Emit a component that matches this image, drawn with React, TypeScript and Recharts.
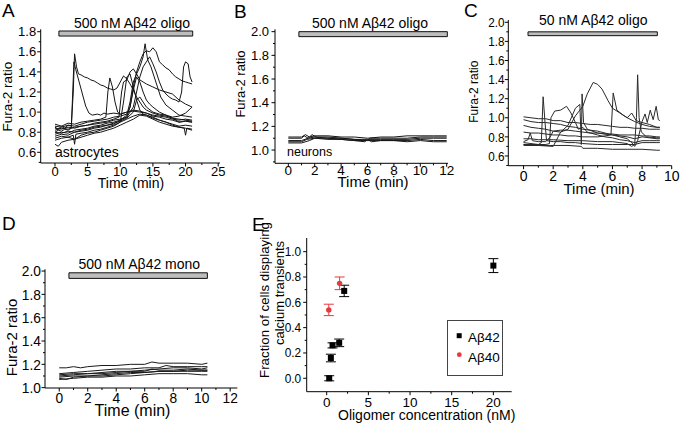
import React from 'react';
import { LineChart, Line, XAxis, YAxis, ReferenceArea, ScatterChart, Scatter, ErrorBar, Legend } from 'recharts';

const W = 681;
const H = 425;
const FONT = '"Liberation Sans", Arial, Helvetica, sans-serif';
const AXW = 30; // reserved y-axis width
const AXH = 20; // reserved x-axis height

type P = [number, number];

// ---------- Panel A : astrocytes, 500 nM Aβ42 oligo ----------
const A1: P[] = [[0,0.85],[0.5,0.83],[1,0.86],[1.5,0.84],[2,0.87],[2.5,0.86],[2.8,1.2],[3,1.58],[3.3,1.45],[3.6,1.38],[4,1.37],[4.5,1.35],[5,1.34],[5.5,1.32],[6,1.31],[6.5,1.29],[7,1.27],[7.5,1.26],[8,1.24],[8.5,1.23],[9,1.22],[9.5,1.24],[10,1.3],[10.5,1.36],[11,1.33],[11.5,1.28],[12,1.22],[12.5,1.15],[13,1.1],[13.5,1.05],[14,1.02],[15,0.99],[16,0.97],[17,0.96],[18,0.94],[19,0.93],[20,0.92],[21,0.91]];
const A2: P[] = [[0,0.8],[0.5,0.82],[1,0.81],[1.5,0.83],[2,0.82],[2.5,0.84],[2.9,1.5],[3.2,1.42],[3.7,1.3],[4.2,1.18],[4.7,1.06],[5.2,0.99],[5.7,0.97],[6.5,0.98],[7,0.97],[7.5,0.99],[8,0.98],[9,0.99],[10,0.98],[11,1.0],[12,1.01],[13,1.0],[14,0.99],[15,0.97],[16,0.96],[17,0.95],[18,0.93],[19,0.92],[20,0.93],[21,0.92]];
const A3: P[] = [[0,0.88],[1,0.86],[2,0.89],[3,0.88],[4,0.9],[5,0.91],[6,0.92],[7,0.93],[7.8,0.95],[8.1,1.2],[8.4,1.34],[8.8,1.25],[9.2,1.1],[9.6,1.0],[10,0.98],[11,1.0],[12,1.02],[13,1.01],[14,0.99],[15,0.96],[16,0.95],[17,0.93],[18,0.92],[19,0.9],[20,0.91],[21,0.9]];
const A4: P[] = [[0,0.82],[1,0.84],[2,0.83],[3,0.85],[4,0.86],[5,0.87],[6,0.89],[7,0.9],[8,0.91],[9,0.93],[9.8,0.95],[10.2,1.2],[10.5,1.3],[11,1.32],[11.5,1.4],[12,1.43],[12.5,1.38],[13,1.32],[13.5,1.3],[14,1.28],[15,1.25],[16,1.22],[17,1.2],[18,1.18],[19,1.12],[20,1.08],[21,1.05]];
const A5: P[] = [[0,0.76],[1,0.78],[2,0.77],[3,0.8],[4,0.81],[5,0.82],[6,0.84],[7,0.85],[8,0.87],[9,0.88],[10,0.92],[11,0.97],[11.5,1.1],[12,1.3],[12.5,1.38],[13,1.45],[13.5,1.55],[13.8,1.68],[14.2,1.52],[14.7,1.45],[15.2,1.35],[15.7,1.25],[16.2,1.15],[17,1.07],[18,1.02],[19,0.97],[20,0.96],[21,0.95]];
const A6: P[] = [[0,0.86],[1,0.85],[2,0.87],[3,0.86],[4,0.88],[5,0.9],[6,0.91],[7,0.92],[8,0.93],[9,0.95],[10,0.96],[11,0.98],[11.5,1.05],[12,1.25],[12.5,1.4],[13,1.5],[13.5,1.58],[14,1.61],[14.5,1.6],[15,1.64],[15.5,1.6],[16,1.5],[16.5,1.47],[17,1.44],[17.5,1.42],[18,1.38],[18.5,1.35],[19,1.33],[19.5,1.31],[20,1.3],[20.5,1.29],[21,1.28]];
const A7: P[] = [[0,0.78],[1,0.8],[2,0.79],[3,0.82],[4,0.83],[5,0.84],[6,0.86],[7,0.87],[8,0.89],[9,0.9],[10,0.92],[11,0.95],[12,1.05],[12.5,1.2],[13,1.35],[13.5,1.45],[14,1.5],[14.5,1.55],[15,1.48],[15.5,1.4],[16,1.3],[16.5,1.22],[17,1.18],[17.5,1.15],[18,1.13],[18.5,1.12],[19,1.1],[19.4,1.2],[19.7,1.45],[20,1.5],[20.4,1.48],[20.7,1.35],[21,1.3]];
const A8: P[] = [[0,0.72],[1,0.74],[2,0.75],[3,0.73],[4,0.77],[5,0.79],[6,0.8],[7,0.82],[8,0.84],[9,0.86],[10,0.9],[10.5,1.1],[11,1.35],[11.5,1.38],[12,1.25],[12.5,1.12],[13,1.02],[13.5,0.98],[14,0.97],[15,0.95],[16,0.92],[17,0.9],[18,0.88],[19,0.86],[20,0.87],[21,0.86]];
const A9: P[] = [[0,0.84],[1,0.83],[2,0.85],[3,0.84],[4,0.86],[5,0.87],[6,0.88],[7,0.89],[8,0.9],[9,0.92],[10,0.93],[11,0.95],[11.5,1.05],[12,1.22],[12.5,1.35],[13,1.3],[13.5,1.2],[14,1.12],[14.5,1.08],[15,1.05],[16,1.0],[17,0.97],[18,0.94],[19,0.9],[20,0.91],[21,0.9]];
const A10: P[] = [[0,0.74],[1,0.76],[2,0.75],[2.8,0.77],[3,0.68],[3.2,0.78],[4,0.79],[5,0.8],[6,0.82],[7,0.83],[8,0.85],[9,0.87],[10,0.9],[11,0.93],[12,0.96],[13,0.98],[14,0.97],[15,0.94],[16,0.92],[17,0.9],[18,0.87],[19,0.85],[19.8,0.84],[20,0.77],[20.2,0.84],[21,0.83]];
const A11: P[] = [[0,0.68],[0.5,0.66],[1,0.7],[2,0.72],[3,0.73],[4,0.75],[5,0.77],[6,0.79],[7,0.8],[8,0.82],[9,0.84],[10,0.87],[11,0.9],[12,0.93],[13,0.97],[14,0.96],[15,0.93],[16,0.9],[17,0.88],[18,0.86],[19,0.85],[20,0.84],[21,0.82]];
const A12: P[] = [[0,0.8],[1,0.79],[2,0.81],[3,0.8],[4,0.82],[5,0.83],[6,0.85],[7,0.86],[8,0.87],[9,0.89],[10,0.91],[11,0.94],[12,1.0],[12.5,1.12],[13,1.15],[13.5,1.1],[14,1.05],[15,1.0],[16,0.98],[17,0.97],[18,0.95],[19,0.96],[20,0.99],[21,1.05]];

// ---------- Panel B : neurons ----------
const B1: P[] = [[0,1.11],[1,1.11],[1.3,1.13],[1.6,1.11],[2,1.12],[3,1.12],[4,1.11],[5,1.11],[6,1.1],[7,1.11],[8,1.11],[9,1.12],[10,1.12],[11,1.12],[12,1.12]];
const B2: P[] = [[0,1.1],[1,1.1],[1.2,1.12],[1.5,1.1],[1.8,1.13],[2.1,1.11],[3,1.11],[4,1.1],[5,1.09],[6,1.08],[6.2,1.1],[7,1.1],[8,1.1],[9,1.1],[10,1.11],[11,1.11],[12,1.11]];
const B3: P[] = [[0,1.08],[1,1.08],[1.5,1.1],[2,1.11],[3,1.1],[4,1.1],[5,1.09],[6,1.09],[7,1.09],[8,1.09],[9,1.09],[10,1.1],[11,1.1],[12,1.1]];
const B4: P[] = [[0,1.07],[1,1.07],[1.4,1.09],[2,1.1],[3,1.1],[4,1.09],[5,1.08],[5.8,1.07],[6,1.09],[6.3,1.07],[7,1.08],[8,1.08],[9,1.08],[10,1.09],[11,1.08],[12,1.08]];
const B5: P[] = [[0,1.06],[1,1.06],[1.6,1.08],[2,1.1],[3,1.09],[4,1.09],[5,1.08],[6,1.08],[7,1.08],[8,1.08],[9,1.07],[10,1.08],[11,1.07],[12,1.07]];

// ---------- Panel C : 50 nM Aβ42 oligo ----------
const C1: P[] = [[0,1.01],[0.5,1.0],[1,0.99],[1.5,0.99],[2,0.97],[2.5,0.97],[3,0.95],[3.5,0.95],[4,0.94],[4.5,0.93],[5,0.93],[5.5,0.92],[6,0.91],[6.5,0.9],[7,0.9],[7.5,0.89],[8,0.89],[8.5,0.88],[9,0.88],[9.2,0.88]];
const C2: P[] = [[0,0.98],[0.5,0.96],[1,0.95],[1.5,0.95],[2,0.94],[2.5,0.93],[3,0.91],[3.5,0.9],[4,0.88],[4.5,0.87],[5,0.86],[5.5,0.84],[6,0.82],[6.5,0.8],[7,0.78],[7.3,0.74],[7.5,0.7],[7.7,0.76],[8,0.96],[8.2,1.04],[8.35,0.95],[8.55,1.08],[8.75,0.98],[8.95,1.12],[9.1,0.98],[9.2,0.97]];
const C3: P[] = [[0,0.92],[0.5,0.9],[1,0.89],[1.5,0.88],[2,0.86],[2.5,0.85],[3,0.88],[3.5,1.02],[4,1.12],[4.3,1.25],[4.7,1.37],[5,1.35],[5.3,1.3],[5.7,1.18],[6,1.1],[6.5,1.05],[7,1.0],[7.5,0.96],[8,0.93],[8.5,0.91],[9,0.9],[9.2,0.9]];
const C4: P[] = [[0,0.85],[0.5,0.84],[1,0.84],[1.5,0.83],[2,0.82],[2.5,0.82],[3,0.81],[3.5,0.81],[4,0.8],[4.5,0.8],[5,0.8],[5.5,0.81],[5.9,0.82],[6.05,1.26],[6.3,1.08],[6.7,1.03],[7,1.0],[7.3,1.05],[7.6,0.97],[8,0.95],[8.5,0.93],[9,0.9],[9.2,0.9]];
const C5: P[] = [[0,0.78],[0.5,0.78],[1,0.77],[2,0.77],[3,0.76],[4,0.76],[5,0.75],[6,0.75],[6.5,0.74],[7,0.73],[7.3,0.7],[7.5,0.72],[7.62,1.0],[7.7,1.45],[7.8,1.0],[7.95,0.85],[8.3,0.8],[9,0.79],[9.2,0.79]];
const C6: P[] = [[0,0.74],[0.5,0.73],[1,0.72],[1.2,0.74],[1.32,1.22],[1.45,0.95],[1.55,0.76],[2,0.75],[2.5,0.75],[3,0.74],[3.5,0.74],[4,0.73],[5,0.72],[6,0.72],[7,0.72],[7.5,0.72],[8,0.74],[9,0.74],[9.2,0.74]];
const C7: P[] = [[0,0.72],[0.5,0.72],[1,0.72],[1.5,0.72],[1.75,0.73],[1.85,1.0],[2.1,1.07],[2.5,1.08],[2.9,1.12],[3.2,1.05],[3.5,0.95],[3.7,0.88],[4,0.9],[4.3,0.85],[5,0.82],[5.5,0.8],[6,0.79],[6.5,0.77],[7,0.76],[7.5,0.74],[8,0.76],[8.5,0.76],[9,0.76],[9.2,0.76]];
const C8: P[] = [[0,0.71],[1,0.71],[2,0.7],[2.5,0.85],[3,0.92],[3.5,1.1],[3.8,1.14],[3.9,0.72],[3.95,1.25],[4.05,0.95],[4.3,0.88],[5,0.84],[5.5,0.83],[6,0.82],[7,0.8],[7.5,0.78],[8,0.8],[9,0.78],[9.2,0.78]];
const C9: P[] = [[0,0.72],[1,0.71],[2,0.71],[3,0.71],[3.9,0.7],[4,0.68],[5,0.68],[6,0.67],[7,0.67],[8,0.67],[9,0.66],[9.2,0.66]];
const C10: P[] = [[0,0.75],[0.3,0.77],[0.45,0.84],[0.6,0.76],[1,0.75],[1.5,0.75],[1.8,0.8],[2,0.86],[2.5,0.87],[3,0.87],[3.5,0.86],[4,0.85],[4.5,0.84],[5,0.84],[5.5,0.83],[6,0.83],[6.5,0.82],[7,0.82],[7.5,0.82],[8,0.81],[8.5,0.81],[9,0.8],[9.2,0.8]];

// ---------- Panel D : 500 nM Aβ42 mono ----------
const D1: P[] = [[0,1.17],[0.5,1.17],[1,1.18],[1.5,1.17],[2,1.18],[3,1.19],[4,1.19],[5,1.2],[6,1.2],[6.5,1.22],[7,1.21],[8,1.21],[9,1.21],[10,1.2],[10.4,1.21]];
const D2: P[] = [[0,1.12],[1,1.13],[2,1.14],[3,1.15],[4,1.16],[5,1.16],[6,1.17],[7,1.17],[7.5,1.19],[8,1.18],[9,1.18],[10,1.18],[10.4,1.18]];
const D3: P[] = [[0,1.11],[1,1.12],[2,1.12],[3,1.13],[4,1.14],[5,1.14],[6,1.15],[7,1.16],[8,1.17],[9,1.17],[10,1.16],[10.4,1.17]];
const D4: P[] = [[0,1.1],[1,1.11],[2,1.12],[3,1.12],[4,1.13],[5,1.14],[6,1.14],[6.5,1.16],[7,1.15],[8,1.15],[9,1.16],[10,1.15],[10.4,1.15]];
const D5: P[] = [[0,1.09],[1,1.1],[2,1.1],[3,1.11],[4,1.12],[5,1.13],[6,1.13],[7,1.14],[8,1.14],[9,1.15],[10,1.15],[10.4,1.15]];
const D6: P[] = [[0,1.08],[0.5,1.07],[1,1.09],[2,1.1],[3,1.1],[4,1.11],[5,1.12],[6,1.13],[7,1.14],[8,1.14],[9,1.14],[10,1.14],[10.4,1.14]];
const D7: P[] = [[0,1.07],[1,1.08],[2,1.09],[3,1.09],[4,1.1],[5,1.1],[6,1.11],[7,1.12],[8,1.12],[9,1.12],[10,1.11],[10.4,1.11]];

// ---------- Panel E : fraction of cells ----------
const seriesNames = ['Aβ42', 'Aβ40'];
const conc42 = [0.3, 0.5, 0.7, 1.5, 2.1, 20];
const frac42 = [0.0, 0.16, 0.26, 0.28, 0.69, 0.89];
const err42 = [0.02, 0.03, 0.02, 0.03, 0.045, 0.055];
const conc40 = [0.25, 1.55];
const frac40 = [0.54, 0.75];
const err40 = [0.045, 0.05];

const range = (a: number, b: number, s: number) => {
  const out: number[] = [];
  for (let i = 0; a + i * s <= b + 1e-9; i++) out.push(Math.round((a + i * s) * 1000) / 1000);
  return out;
};

const toPts = (a: P[]) => a.map(([t, v]) => ({ t, v }));
const isMajor = (v: number, majors: number[]) => majors.some((m) => Math.abs(m - v) < 1e-6);

type TickCfg = { majors: number[]; fs: number; gap: number; sx: number; fmt: (v: number) => string };

const makeXTick = (c: TickCfg) => (p: any) => {
  const { x, y, payload } = p;
  const v = payload.value;
  const maj = isMajor(v, c.majors);
  return (
    <g>
      <line x1={x} x2={x} y1={y} y2={y + (maj ? 3.5 : 2)} stroke="#000" strokeWidth={1} />
      {maj ? (
        <text transform={`translate(${x},${y + c.gap}) scale(${c.sx},1)`} textAnchor="middle" fontSize={c.fs} fontFamily={FONT} fill="#000">
          {c.fmt(v)}
        </text>
      ) : null}
    </g>
  );
};

const makeYTick = (c: TickCfg) => (p: any) => {
  const { x, y, payload } = p;
  const v = payload.value;
  const maj = isMajor(v, c.majors);
  return (
    <g>
      <line x1={x} x2={x - (maj ? 3.5 : 2)} y1={y} y2={y} stroke="#000" strokeWidth={1} />
      {maj ? (
        <text transform={`translate(${x - c.gap},${y + c.fs * 0.36}) scale(${c.sx},1)`} textAnchor="end" fontSize={c.fs} fontFamily={FONT} fill="#000">
          {c.fmt(v)}
        </text>
      ) : null}
    </g>
  );
};

const f1 = (v: number) => v.toFixed(1);
const f0 = (v: number) => String(v);

type PanelProps = {
  box: [number, number, number, number];
  xDomain: [number, number];
  yDomain: [number, number];
  xMajors: number[];
  xMinors: number[];
  yMajors: number[];
  yMinors: number[];
  xt: { fs: number; gap: number; sx: number };
  yt: { fs: number; gap: number; sx: number };
  traces: P[][];
  bar: [number, number, number, number];
  stroke: string;
};

const marginFor = (box: number[]) => ({ left: box[0] - AXW, top: box[1], right: W - box[2], bottom: H - box[3] - AXH });

function TracePanel(props: PanelProps) {
  const { box, xDomain, yDomain, xMajors, xMinors, yMajors, yMinors, xt, yt, traces, bar, stroke } = props;
  const xTicks = [...xMajors, ...xMinors].sort((a, b) => a - b);
  const yTicks = [...yMajors, ...yMinors].sort((a, b) => a - b);
  return (
    <div style={{ position: 'absolute', left: 0, top: 0 }}>
      <LineChart width={W} height={H} margin={marginFor(box)}>
        <XAxis
          type="number"
          dataKey="t"
          domain={xDomain}
          allowDataOverflow
          ticks={xTicks}
          interval={0}
          height={AXH}
          tickSize={0}
          tickMargin={0}
          tickLine={false}
          axisLine={{ stroke: '#000', strokeWidth: 1 }}
          tick={makeXTick({ majors: xMajors, fmt: f0, ...xt })}
        />
        <YAxis
          type="number"
          dataKey="v"
          domain={yDomain}
          allowDataOverflow
          ticks={yTicks}
          interval={0}
          width={AXW}
          tickSize={0}
          tickMargin={0}
          tickLine={false}
          axisLine={{ stroke: '#000', strokeWidth: 1 }}
          tick={makeYTick({ majors: yMajors, fmt: f1, ...yt })}
        />
        <ReferenceArea x1={bar[0]} x2={bar[1]} y1={bar[2]} y2={bar[3]} fill="#bdbdbd" fillOpacity={1} stroke="#111" strokeWidth={1} ifOverflow="visible" />
        {traces.map((tr, i) => (
          <Line key={i} data={toPts(tr)} dataKey="v" type="linear" stroke={stroke} strokeWidth={1} dot={false} isAnimationActive={false} />
        ))}
      </LineChart>
    </div>
  );
}

const squareShape = (p: any) => <rect x={p.cx - 3} y={p.cy - 3} width={6} height={6} fill="#000" />;
const circleShape = (p: any) => <circle cx={p.cx} cy={p.cy} r={2.7} fill="#e8383d" />;

function PanelE() {
  const box = [306.7, 238, 511.7, 391.7];
  const d42 = conc42.map((x, i) => ({ x, y: frac42[i], e: err42[i] }));
  const d40 = conc40.map((x, i) => ({ x, y: frac40[i], e: err40[i] }));
  const xMajors = range(0, 20, 5);
  const xMinors = range(2.5, 17.5, 5);
  const yMajors = range(0, 1, 0.2);
  const yMinors = range(0.1, 0.9, 0.2);
  const legendContent = () => (
    <div style={{ width: 56, height: 56, boxSizing: 'border-box', border: '1px solid #444', background: '#fff' }}>
      <svg width={54} height={54} style={{ display: 'block' }}>
        <rect x={8.7} y={12.2} width={5} height={5} fill="#000" />
        <text x={20} y={21} fontSize={13.5} fontFamily={FONT} fill="#000">{seriesNames[0]}</text>
        <circle cx={11.3} cy={33.7} r={2.4} fill="#e8383d" />
        <text x={20} y={40.5} fontSize={13.5} fontFamily={FONT} fill="#000">{seriesNames[1]}</text>
      </svg>
    </div>
  );
  return (
    <div style={{ position: 'absolute', left: 0, top: 0 }}>
      <ScatterChart width={W} height={H} margin={marginFor(box)}>
        <XAxis
          type="number"
          dataKey="x"
          domain={[-2.4, 22.2]}
          allowDataOverflow
          ticks={[...xMajors, ...xMinors].sort((a, b) => a - b)}
          interval={0}
          height={AXH}
          tickSize={0}
          tickMargin={0}
          tickLine={false}
          axisLine={{ stroke: '#000', strokeWidth: 1 }}
          tick={makeXTick({ majors: xMajors, fmt: f0, fs: 13.5, gap: 15, sx: 1 })}
        />
        <YAxis
          type="number"
          dataKey="y"
          domain={[-0.106, 1.108]}
          allowDataOverflow
          ticks={[...yMajors, ...yMinors].sort((a, b) => a - b)}
          interval={0}
          width={AXW}
          tickSize={0}
          tickMargin={0}
          tickLine={false}
          axisLine={{ stroke: '#000', strokeWidth: 1 }}
          tick={makeYTick({ majors: yMajors, fmt: f1, fs: 12.5, gap: 5.5, sx: 0.95 })}
        />
        <Legend
          layout="horizontal"
          verticalAlign="middle"
          align="center"
          wrapperStyle={{ position: 'absolute', left: 447, top: 320, width: 56, height: 56, margin: 0 }}
          content={legendContent}
        />
        <Scatter name={seriesNames[0]} data={d42} shape={squareShape} isAnimationActive={false}>
          <ErrorBar dataKey="e" direction="y" width={5} stroke="#000" strokeWidth={1} />
        </Scatter>
        <Scatter name={seriesNames[1]} data={d40} shape={circleShape} isAnimationActive={false}>
          <ErrorBar dataKey="e" direction="y" width={5} stroke="#e8383d" strokeWidth={1} />
        </Scatter>
      </ScatterChart>
    </div>
  );
}

const Txt = (p: { x: number; y: number; fs: number; anchor?: string; rot?: number; sx?: number; children: any }) => (
  <text
    transform={`translate(${p.x},${p.y}) rotate(${p.rot || 0}) scale(${p.sx || 1},1)`}
    textAnchor={p.anchor || 'middle'}
    fontSize={p.fs}
    fontFamily={FONT}
    fill="#000"
  >
    {p.children}
  </text>
);

export default function App() {
  return (
    <div style={{ position: 'absolute', left: 0, top: 0, width: W, height: H, background: '#fff', overflow: 'hidden', fontFamily: FONT }}>
      <TracePanel
        box={[40.7, 29.3, 220, 163]}
        xDomain={[-2.19, 25.28]}
        yDomain={[0.4935, 1.824]}
        xMajors={range(0, 25, 5)}
        xMinors={range(2.5, 22.5, 5)}
        yMajors={range(0.6, 1.8, 0.2)}
        yMinors={range(0.5, 1.7, 0.2)}
        xt={{ fs: 13, gap: 13, sx: 1 }}
        yt={{ fs: 13, gap: 4.5, sx: 1 }}
        traces={[A1, A2, A3, A4, A5, A6, A7, A8, A9, A10, A11, A12]}
        bar={[0.6, 21.1, 1.757, 1.807]}
        stroke="#151515"
      />
      <TracePanel
        box={[275, 29.3, 448, 163.3]}
        xDomain={[-1.01, 12.1]}
        yDomain={[0.888, 2.02]}
        xMajors={range(0, 12, 2)}
        xMinors={range(1, 11, 2)}
        yMajors={range(1, 2, 0.2)}
        yMinors={range(0.9, 1.9, 0.2)}
        xt={{ fs: 13.5, gap: 11.5, sx: 1 }}
        yt={{ fs: 13, gap: 6, sx: 1 }}
        traces={[B1, B2, B3, B4, B5]}
        bar={[0.8, 12.05, 1.958, 2.0]}
        stroke="#151515"
      />
      <TracePanel
        box={[508.3, 20, 671.7, 165.7]}
        xDomain={[-1.03, 10]}
        yDomain={[0.498, 2.024]}
        xMajors={range(0, 10, 2)}
        xMinors={range(1, 9, 2)}
        yMajors={range(0.6, 2.0, 0.2)}
        yMinors={range(0.5, 1.9, 0.2)}
        xt={{ fs: 14, gap: 15, sx: 1 }}
        yt={{ fs: 13, gap: 3.8, sx: 0.9 }}
        traces={[C1, C2, C3, C4, C5, C6, C7, C8, C9, C10]}
        bar={[0.3, 9.03, 1.86, 1.9]}
        stroke="#2a2a2a"
      />
      <TracePanel
        box={[45, 269.3, 237.3, 388]}
        xDomain={[-1.0, 12.5]}
        yDomain={[0.997, 2.015]}
        xMajors={range(0, 12, 2)}
        xMinors={range(1, 11, 2)}
        yMajors={range(1, 2, 0.2)}
        yMinors={range(1.1, 1.9, 0.2)}
        xt={{ fs: 14.5, gap: 15, sx: 0.95 }}
        yt={{ fs: 14.5, gap: 4, sx: 0.95 }}
        traces={[D1, D2, D3, D4, D5, D6, D7]}
        bar={[0.68, 10.4, 1.937, 1.985]}
        stroke="#1a1a1a"
      />
      <PanelE />
      <svg width={W} height={H} style={{ position: 'absolute', left: 0, top: 0, pointerEvents: 'none' }}>
        <Txt x={2} y={17} fs={19} anchor="start">A</Txt>
        <Txt x={234} y={18} fs={19} anchor="start">B</Txt>
        <Txt x={464} y={17} fs={19} anchor="start">C</Txt>
        <Txt x={2} y={230} fs={19} anchor="start">D</Txt>
        <Txt x={252} y={231} fs={19} anchor="start">E</Txt>
        <Txt x={132} y={28} fs={14}>500 nM Aβ42 oligo</Txt>
        <Txt x={370} y={28} fs={14}>500 nM Aβ42 oligo</Txt>
        <Txt x={593.3} y={24.5} fs={14}>50 nM Aβ42 oligo</Txt>
        <Txt x={139.3} y={269} fs={14}>500 nM Aβ42 mono</Txt>
        <Txt x={12} y={96.7} fs={13.5} rot={-90}>Fura-2 ratio</Txt>
        <Txt x={131} y={188} fs={14}>Time (min)</Txt>
        <Txt x={55} y={157} fs={14} anchor="start">astrocytes</Txt>
        <Txt x={245} y={84} fs={13} rot={-90}>Fura-2 ratio</Txt>
        <Txt x={373} y={187} fs={15}>Time (min)</Txt>
        <Txt x={287} y={156} fs={12.5} anchor="start">neurons</Txt>
        <Txt x={478} y={91.7} fs={12} rot={-90}>Fura-2 ratio</Txt>
        <Txt x={599} y={194} fs={15}>Time (min)</Txt>
        <Txt x={17} y={337.5} fs={15} rot={-90}>Fura-2 ratio</Txt>
        <Txt x={132.5} y={416} fs={16}>Time (min)</Txt>
        <Txt x={269} y={300} fs={13.3} rot={-90}>Fraction of cells displaying</Txt>
        <Txt x={283.5} y={293} fs={13} rot={-90}>calcium transients</Txt>
        <Txt x={426.7} y={420} fs={14}>Oligomer concentration (nM)</Txt>
      </svg>
    </div>
  );
}
